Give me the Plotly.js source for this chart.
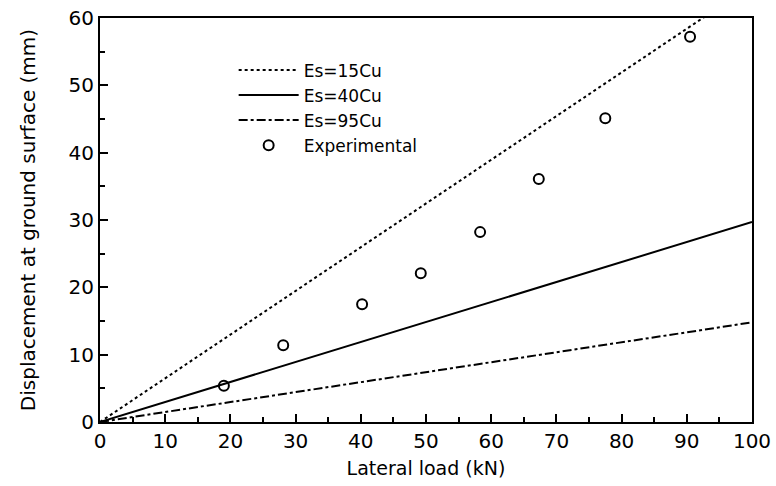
<!DOCTYPE html>
<html>
<head>
<meta charset="utf-8">
<script src="https://cdn.plot.ly/plotly-3.0.1.min.js"></script>
<style>html,body{margin:0;padding:0;background:#fff}#chart{width:776px;height:486px}</style>
</head>
<body>
<div id="chart"></div>
<script>
const lineX = [0, 100];
const es15Y = [0, 64.9];
const es40Y = [0, 29.7];
const es95Y = [0, 14.8];
const expX = [19.0, 28.1, 40.2, 49.2, 58.3, 67.3, 77.5, 90.5];
const expY = [5.4, 11.4, 17.5, 22.1, 28.2, 36.1, 45.1, 57.2];
const xTicks = [0, 10, 20, 30, 40, 50, 60, 70, 80, 90, 100];
const yTicks = [0, 10, 20, 30, 40, 50, 60];

const traces = [
  {x: lineX, y: es15Y, mode: 'lines', name: 'Es=15Cu', line: {color: '#000', width: 2, dash: 'dot'}},
  {x: lineX, y: es40Y, mode: 'lines', name: 'Es=40Cu', line: {color: '#000', width: 2}},
  {x: lineX, y: es95Y, mode: 'lines', name: 'Es=95Cu', line: {color: '#000', width: 2, dash: 'dashdot'}},
  {x: expX, y: expY, mode: 'markers', name: 'Experimental', marker: {symbol: 'circle-open', size: 10, color: '#000', line: {width: 2}}}
];
const axisCommon = {
  showgrid: false, zeroline: false, showline: true, linecolor: '#000', linewidth: 2,
  mirror: true, ticks: 'inside', ticklen: 8, tickwidth: 2, tickcolor: '#000',
  tickfont: {size: 20, color: '#000'},
  minor: {ticks: 'inside', ticklen: 5, tickwidth: 2, tickcolor: '#000', dtick: 5}
};
const layout = {
  width: 776, height: 486,
  margin: {l: 100, r: 24, t: 18, b: 64},
  paper_bgcolor: '#fff', plot_bgcolor: '#fff',
  font: {family: 'DejaVu Sans, sans-serif', color: '#000'},
  showlegend: true,
  legend: {x: 0.205, y: 0.915, xanchor: 'left', yanchor: 'top', bgcolor: 'rgba(0,0,0,0)',
    font: {size: 17, color: '#000'}, tracegroupgap: 0, itemwidth: 60},
  xaxis: Object.assign({}, axisCommon, {range: [0, 100], tickvals: xTicks,
    title: {text: 'Lateral load (kN)', font: {size: 19, color: '#000'}, standoff: 10}}),
  yaxis: Object.assign({}, axisCommon, {range: [0, 60], tickvals: yTicks,
    title: {text: 'Displacement at ground surface (mm)', font: {size: 20, color: '#000'}, standoff: 28}})
};
Plotly.newPlot('chart', traces, layout, {displayModeBar: false, staticPlot: true});
</script>
</body>
</html>
